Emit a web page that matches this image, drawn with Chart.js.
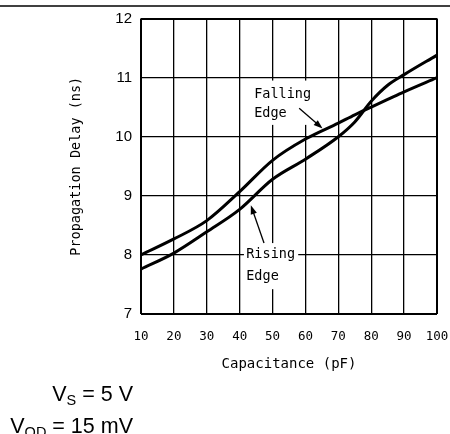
<!DOCTYPE html>
<html>
<head>
<meta charset="utf-8">
<style>
  html, body { margin: 0; padding: 0; background: #fff; }
  #wrap { width: 450px; height: 434px; position: relative; }
</style>
<script src="https://cdn.jsdelivr.net/npm/chart.js@4/dist/chart.umd.min.js"></script>
</head>
<body>
<div id="wrap"><canvas id="c" width="450" height="434"></canvas></div>
<script>
// ---- data ----
const capacitance = [10, 20, 30, 40, 50, 60, 70, 75, 80, 85, 90, 100];
const fallingEdge = [8.0, 8.27, 8.58, 9.07, 9.6, 9.96, 10.23, 10.37, 10.5, 10.63, 10.76, 11.0];
const risingEdge  = [7.76, 8.03, 8.39, 8.77, 9.28, 9.62, 10.0, 10.25, 10.6, 10.87, 11.05, 11.38];
const xTickLabels = ['10', '20', '30', '40', '50', '60', '70', '80', '90', '100'];
const yTickLabels = ['7', '8', '9', '10', '11', '12'];
const xTitle = 'Capacitance (pF)';
const yTitle = 'Propagation Delay (ns)';
const conditionLines = [['V', 'S', ' = 5 V'], ['V', 'OD', ' = 15 mV']];

const toPts = (xs, ys) => xs.map((x, i) => ({ x: x, y: ys[i] }));

const MONO = '"DejaVu Sans Mono", monospace';
const SANS = '"Liberation Sans", Arial, sans-serif';

const annotationPlugin = {
  id: 'annot',
  beforeDraw(chart) {
    const ctx = chart.ctx;
    ctx.save();
    ctx.strokeStyle = '#000';
    ctx.lineWidth = 1.5;
    ctx.beginPath();
    ctx.moveTo(0, 6);
    ctx.lineTo(chart.width, 6);
    ctx.stroke();
    ctx.restore();
  },
  beforeDatasetsDraw(chart) {
    const ctx = chart.ctx;
    const xs = chart.scales.x, ys = chart.scales.y;
    const X = v => xs.getPixelForValue(v), Y = v => ys.getPixelForValue(v);
    ctx.save();
    ctx.fillStyle = '#fff';
    const boxes = [[43.6, 61.8, 10.95, 10.2], [41.3, 57.8, 8.2, 7.42]];
    boxes.forEach(b => {
      ctx.fillRect(X(b[0]), Y(b[2]), X(b[1]) - X(b[0]), Y(b[3]) - Y(b[2]));
    });
    ctx.fillStyle = '#000';
    ctx.font = '13.5px ' + MONO;
    ctx.textAlign = 'left';
    ctx.textBaseline = 'middle';
    ctx.fillText('Falling', X(44.4), Y(10.72));
    ctx.fillText('Edge', X(44.4), Y(10.40));
    ctx.fillText('Rising', X(42.0), Y(8.0));
    ctx.fillText('Edge', X(42.0), Y(7.64));
    ctx.restore();
  },
  afterDatasetsDraw(chart) {
    const ctx = chart.ctx;
    const xs = chart.scales.x, ys = chart.scales.y;
    const X = v => xs.getPixelForValue(v), Y = v => ys.getPixelForValue(v);
    function arrow(x0, y0, x1, y1) {
      const ax = X(x0), ay = Y(y0), bx = X(x1), by = Y(y1);
      const ang = Math.atan2(by - ay, bx - ax);
      const L = 9, W = 3.2;
      ctx.strokeStyle = '#000';
      ctx.lineWidth = 1.3;
      ctx.beginPath();
      ctx.moveTo(ax, ay);
      ctx.lineTo(bx - Math.cos(ang) * L * 0.8, by - Math.sin(ang) * L * 0.8);
      ctx.stroke();
      ctx.fillStyle = '#000';
      ctx.beginPath();
      ctx.moveTo(bx, by);
      ctx.lineTo(bx - Math.cos(ang) * L - Math.sin(ang) * W, by - Math.sin(ang) * L + Math.cos(ang) * W);
      ctx.lineTo(bx - Math.cos(ang) * L + Math.sin(ang) * W, by - Math.sin(ang) * L - Math.cos(ang) * W);
      ctx.closePath();
      ctx.fill();
    }
    ctx.save();
    arrow(58.1, 10.48, 65.2, 10.14);
    arrow(47.4, 8.20, 43.4, 8.84);
    ctx.restore();
  },
  afterDraw(chart) {
    const ctx = chart.ctx;
    ctx.save();
    ctx.fillStyle = '#000';
    ctx.textBaseline = 'alphabetic';
    ctx.textAlign = 'left';
    const big = '21.5px ' + SANS, small = '14.5px ' + SANS;
    const baselines = [401, 433];
    const rightEdge = 133;
    conditionLines.forEach((parts, i) => {
      ctx.font = big; const w0 = ctx.measureText(parts[0]).width;
      ctx.font = small; const w1 = ctx.measureText(parts[1]).width;
      ctx.font = big; const w2 = ctx.measureText(parts[2]).width;
      let x = rightEdge - (w0 + w1 + w2);
      const b = baselines[i];
      ctx.font = big; ctx.fillText(parts[0], x, b); x += w0;
      ctx.font = small; ctx.fillText(parts[1], x, b + 4); x += w1;
      ctx.font = big; ctx.fillText(parts[2], x, b);
    });
    ctx.restore();
  }
};

const edgeWidth = (ctx) => (ctx.index === 0 || ctx.index === ctx.scale.ticks.length - 1) ? 2 : 1.3;

new Chart(document.getElementById('c'), {
  type: 'line',
  data: {
    datasets: [
      { label: 'Falling Edge', data: toPts(capacitance, fallingEdge), borderColor: '#000', borderWidth: 3,
        pointRadius: 0, fill: false, cubicInterpolationMode: 'monotone' },
      { label: 'Rising Edge', data: toPts(capacitance, risingEdge), borderColor: '#000', borderWidth: 3,
        pointRadius: 0, fill: false, cubicInterpolationMode: 'monotone' }
    ]
  },
  options: {
    responsive: false,
    animation: false,
    devicePixelRatio: 1,
    layout: { padding: { left: 0, right: 0, top: 18.5, bottom: 0 } },
    plugins: { legend: { display: false }, tooltip: { enabled: false } },
    scales: {
      x: {
        type: 'linear', min: 10, max: 100,
        afterFit: s => { s.height = 120; s.paddingRight = 13; },
        afterBuildTicks: s => { s.ticks = xTickLabels.map(v => ({ value: Number(v) })); },
        ticks: { color: '#000', padding: 15, font: { family: MONO, size: 12.5 },
                 callback: (v) => xTickLabels[xTickLabels.indexOf(String(v))] },
        grid: { color: '#000', lineWidth: edgeWidth, drawTicks: false },
        border: { display: false },
        title: { display: true, text: xTitle, color: '#000', font: { family: MONO, size: 14 },
                 padding: { top: 0, bottom: 61 } }
      },
      y: {
        type: 'linear', min: 7, max: 12,
        afterFit: s => { s.width = 141; },
        afterBuildTicks: s => { s.ticks = yTickLabels.map(v => ({ value: Number(v) })); },
        ticks: { color: '#000', padding: 9, font: { family: SANS, size: 15 },
                 callback: (v) => yTickLabels[yTickLabels.indexOf(String(v))] },
        grid: { color: '#000', lineWidth: edgeWidth, drawTicks: false },
        border: { display: false },
        title: { display: true, text: yTitle, color: '#000', font: { family: MONO, size: 13.5 },
                 padding: { top: 68, bottom: 0 } }
      }
    }
  },
  plugins: [annotationPlugin]
});
</script>
</body>
</html>
